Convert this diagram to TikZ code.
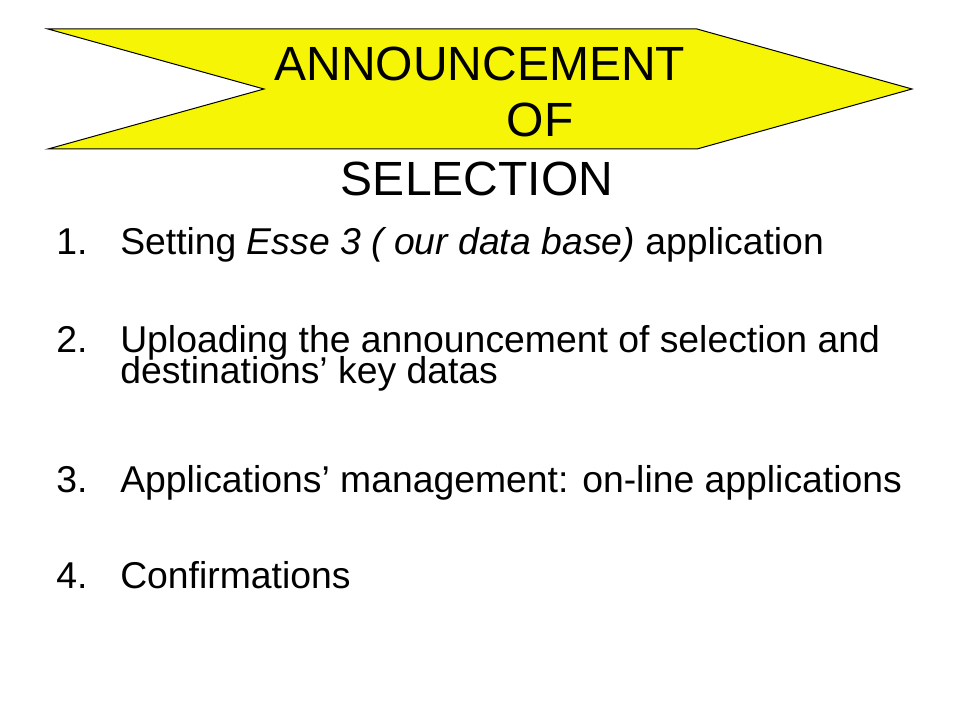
\documentclass[tikz,border=0pt]{standalone}
\usepackage{fontspec}
\setmainfont{Liberation Sans}
\usetikzlibrary{positioning}
\definecolor{banneryellow}{RGB}{245,245,5}

\begin{document}
\begin{tikzpicture}[
    x=0.75pt, y=-0.75pt,
    banner/.style={draw=black, line width=0.75pt, fill=banneryellow},
    heading/.style={inner sep=0pt, anchor=base, font=\fontsize{36}{43}\selectfont},
    itemnum/.style={inner sep=0pt, anchor=base west, font=\fontsize{28}{21}\selectfont},
    itemtext/.style={inner sep=0pt, anchor=base west, align=left, font=\fontsize{28}{21}\selectfont}
]
\useasboundingbox (0,0) rectangle (960,720);

% Banner
\draw[banner] (48,29) -- (697,29) -- (912,89) -- (697,149) -- (48,149) -- (264,89) -- cycle;

% Heading
\node[heading] (head1) at (480,81) {ANNOUNCEMENT};
\node[heading] (head2) at (540,137) {OF};
\node[heading] (head3) at (477,196) {SELECTION};

% Numbers
\node[itemnum] (num1) at (56,255) {1.};
\node[itemnum] (num2) at (56,352) {2.};
\node[itemnum] (num3) at (56,492) {3.};
\node[itemnum] (num4) at (56,588) {4.};

% Items (base of a two-line node is its last line)
\node[itemtext] (item1) at (120,255) {Setting \textit{Esse 3 ( our data base)} application};
\node[itemtext] (item2) at (120,383) {Uploading the announcement of selection and\\[-4pt]destinations’ key datas};
\node[itemtext] (item3) at (120,492) {Applications’ management: on-line applications};
\node[itemtext] (item4) at (120,588) {Confirmations};

\end{tikzpicture}
\end{document}
